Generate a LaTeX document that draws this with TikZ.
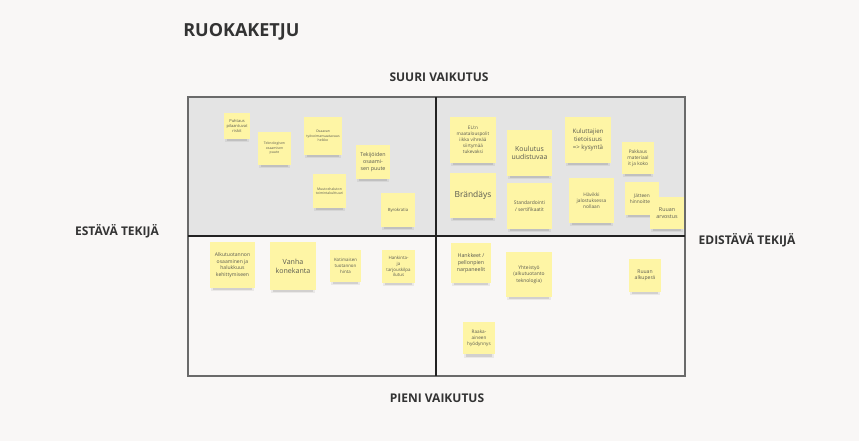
\documentclass[tikz,border=0pt]{standalone}
\usepackage{fontspec}
\setmainfont{Open Sans}
\definecolor{bgcol}{HTML}{F9F7F6}
\definecolor{topgrey}{HTML}{E4E4E4}
\definecolor{noteyellow}{HTML}{FEF5A5}
\definecolor{notetext}{HTML}{5A5A50}
\definecolor{labeltext}{HTML}{333333}
\definecolor{framecol}{HTML}{6A6A6A}
\definecolor{axiscol}{HTML}{222222}
\tikzset{
  note/.style={fill=noteyellow, inner sep=0pt, align=center, text=notetext},
  heading/.style={text=labeltext, font=\bfseries\fontsize{9}{11}\selectfont, inner sep=0pt},
  framebox/.style={draw=framecol, line width=1.3},
  axis/.style={draw=axiscol, line width=1.6}
}
% name, x1, y1, x2, y2, size, leading, text
\newcommand\sticky[8]{%
  \fill[black,opacity=0.06] ({#2+1},{#5-3}) rectangle ({#4-1},{#5+3.5});
  \fill[black,opacity=0.10] ({#2+3},{#5-1}) rectangle ({#4-3},{#5+2.5});
  \node[note, minimum width={(#4-#2)*0.75pt}, minimum height={(#5-#3)*0.75pt},
        font=\fontsize{#6}{#7}\selectfont] (#1) at ({(#2+#4)/2},{(#3+#5)/2}) {#8};}
\begin{document}
\begin{tikzpicture}[x=0.75pt,y=-0.75pt]
\fill[bgcol] (0,0) rectangle (859,441);
\useasboundingbox (0,0) rectangle (859,441);
% quadrants
\fill[topgrey] (188,97) rectangle (685,236);
\draw[framebox] (188,97) rectangle (685,376);
\coordinate (vtop) at (436,97);
\coordinate (vbot) at (436,376);
\coordinate (hleft) at (188,236);
\coordinate (hright) at (685,236);
\draw[axis] (vtop) -- (vbot);
\draw[axis] (hleft) -- (hright);
% labels
\node[text=labeltext, font=\bfseries\fontsize{13.5}{16}\selectfont, anchor=west, inner sep=0pt] (title) at (183,32) {RUOKAKETJU};
\node[heading] (suuri) at (439,77) {SUURI VAIKUTUS};
\node[heading] (pieni) at (437,398) {PIENI VAIKUTUS};
\node[heading] (estava) at (117,231) {ESTÄVÄ TEKIJÄ};
\node[heading] (edistava) at (747,240) {EDISTÄVÄ TEKIJÄ};
% top-left
\sticky{n1}{224}{113}{250}{139}{3pt}{3.7pt}{Puhtaus\\pilaantuvat\\riskit}
\sticky{n2}{258}{132}{291}{165}{2.6pt}{3.4pt}{Teknologisen\\osaamisen\\puute}
\sticky{n3}{304}{117}{342}{155}{2.6pt}{3.4pt}{Osaavan\\työvoimansaatavuus\\heikko}
\sticky{n4}{356}{145}{390}{179}{4pt}{5.2pt}{Tekijöiden\\osaami-\\sen puute}
\sticky{n5}{313}{174}{346}{208}{2.6pt}{3.4pt}{Muutoshaluton\\toimintakulttuuri}
\sticky{n6}{381}{193}{415}{227}{3.2pt}{4pt}{Byrokratia}
% top-right
\sticky{nA}{450}{117}{496}{163}{3.5pt}{4.5pt}{EU:n\\maatalouspolit\\iikka vihreää\\siirtymää\\tukevaksi}
\sticky{nB}{507}{130}{552}{176}{5.2pt}{6.6pt}{Koulutus\\uudistuvaa}
\sticky{nC}{565}{117}{611}{163}{4.6pt}{5.9pt}{Kuluttajien\\tietoisuus\\=> kysyntä}
\sticky{nD}{622}{142}{654}{174}{3.6pt}{4.6pt}{Pakkaus\\materiaal\\it ja koko}
\sticky{nE}{450}{173}{496}{218}{6.3pt}{8pt}{Brändäys}
\sticky{nF}{507}{183}{552}{229}{3.7pt}{4.8pt}{Standardointi\\/ sertifikaatit}
\sticky{nG}{569}{178}{614}{223}{3.6pt}{4.7pt}{Hävikki\\jalostuksessa\\nollaan}
\sticky{nH}{625}{182}{659}{215}{3.6pt}{4.7pt}{Jätteen\\hinnoittelu}
\sticky{nI}{650}{197}{684}{229}{4pt}{5.2pt}{Ruuan\\arvostus}
% bottom-left
\sticky{na}{210}{242}{255}{288}{3.8pt}{4.9pt}{Alkutuotannon\\osaaminen ja\\halukkuus\\kehittymiseen}
\sticky{nb}{270}{242}{316}{290}{5.3pt}{6.8pt}{Vanha\\konekanta}
\sticky{nc}{330}{250}{361}{282}{3.3pt}{4.3pt}{Kotimaisen\\tuotannon\\hinta}
\sticky{nd}{382}{250}{415}{283}{3.3pt}{4.3pt}{Hankinta-\\ja\\tarjouskilpa\\ilutus}
% bottom-right
\sticky{ne}{451}{243}{491}{283}{4pt}{5.2pt}{Hankkeet /\\pellonpien\\narpaneelit}
\sticky{nf}{506}{252}{552}{297}{3.7pt}{4.8pt}{Yhteistyö\\(alkutuotanto\\teknologia)}
\sticky{ng}{629}{259}{661}{292}{3.8pt}{4.9pt}{Ruuan\\alkuperä}
\sticky{nh}{463}{322}{495}{354}{3.5pt}{4.5pt}{Raaka-\\aineen\\hyödynnys}
\end{tikzpicture}
\end{document}
